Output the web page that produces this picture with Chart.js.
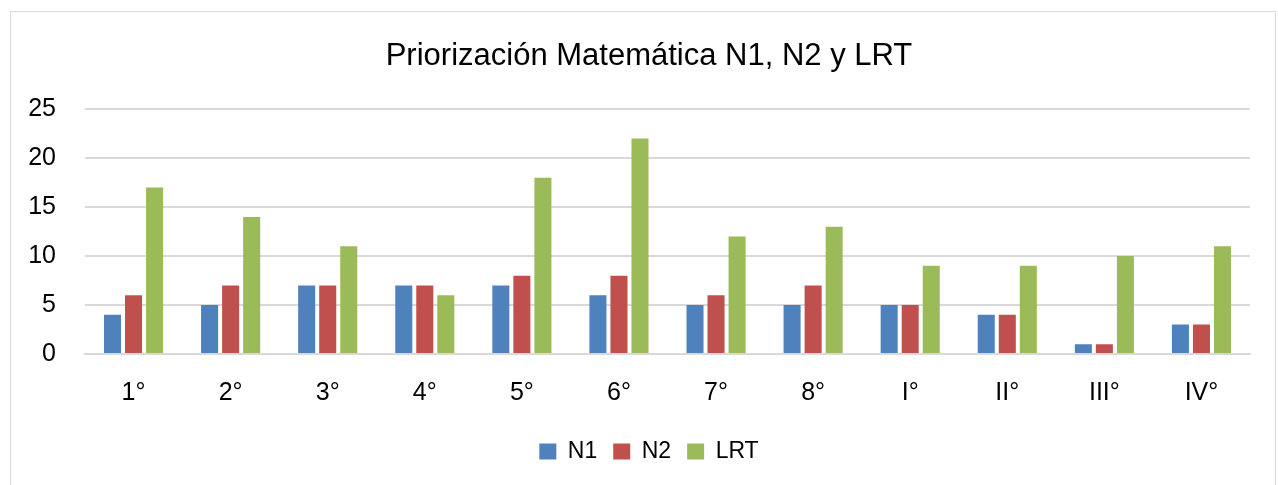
<!DOCTYPE html>
<html>
<head>
<meta charset="utf-8">
<script src="https://cdn.jsdelivr.net/npm/chart.js@4/dist/chart.umd.min.js"></script>
<style>
  html, body { margin: 0; padding: 0; background: #ffffff; width: 1278px; height: 485px; overflow: hidden; }
  #frame { position: absolute; left: 10px; top: 11px; width: 1266px; height: 500px; border: 1px solid #d9d9d9; box-sizing: border-box; }
  #wrap { position: absolute; left: 0; top: 0; width: 1278px; height: 485px; }
</style>
</head>
<body>
<div id="frame"></div>
<div id="wrap"><canvas id="c" width="1278" height="485"></canvas></div>
<script>
const categories = ["1°", "2°", "3°", "4°", "5°", "6°", "7°", "8°", "I°", "II°", "III°", "IV°"];
const n1Values  = [4, 5, 7, 7, 7, 6, 5, 5, 5, 4, 1, 3];
const n2Values  = [6, 7, 7, 7, 8, 8, 6, 7, 5, 4, 1, 3];
const lrtValues = [17, 14, 11, 6, 18, 22, 12, 13, 9, 9, 10, 11];
const yTicks = [0, 5, 10, 15, 20, 25];

const FONT = "'Liberation Sans', Arial, sans-serif";

new Chart(document.getElementById('c'), {
  type: 'bar',
  data: {
    labels: categories,
    datasets: [
      { label: 'N1', data: n1Values, backgroundColor: '#4F81BD' },
      { label: 'N2', data: n2Values, backgroundColor: '#C0504D' },
      { label: 'LRT', data: lrtValues, backgroundColor: '#9BBB59' }
    ]
  },
  options: {
    responsive: false,
    animation: false,
    devicePixelRatio: 1,
    categoryPercentage: 0.65,
    barPercentage: 0.81,
    layout: { padding: { left: 48, right: 28, top: 0, bottom: 12 } },
    plugins: {
      title: {
        display: true,
        text: 'Priorización Matemática N1, N2 y LRT',
        color: '#000000',
        font: { family: FONT, size: 31, weight: 'normal' },
        padding: { top: 38, bottom: 34 }
      },
      legend: {
        position: 'bottom',
        labels: {
          color: '#000000',
          font: { family: FONT, size: 23 },
          boxWidth: 17,
          boxHeight: 16,
          padding: 16
        }
      },
      tooltip: { enabled: false }
    },
    scales: {
      x: {
        grid: { display: false, drawTicks: false },
        border: { display: true, color: '#d9d9d9', width: 2 },
        ticks: { color: '#000000', font: { family: FONT, size: 25 }, padding: 24, maxRotation: 0 },
        afterFit: (s) => { s.height = 70; }
      },
      y: {
        min: 0, max: 25,
        afterBuildTicks: (s) => { s.ticks = yTicks.map(v => ({ value: v })); },
        grid: { color: '#d9d9d9', lineWidth: 2, drawTicks: false },
        border: { display: false },
        ticks: { color: '#000000', font: { family: FONT, size: 25 }, padding: 29 },
        afterFit: (s) => {
          s.width = 37;
          // let the tick labels extend left of the narrowed axis box
          s._computeLabelArea = () => undefined;
        }
      }
    }
  }
});
</script>
</body>
</html>
